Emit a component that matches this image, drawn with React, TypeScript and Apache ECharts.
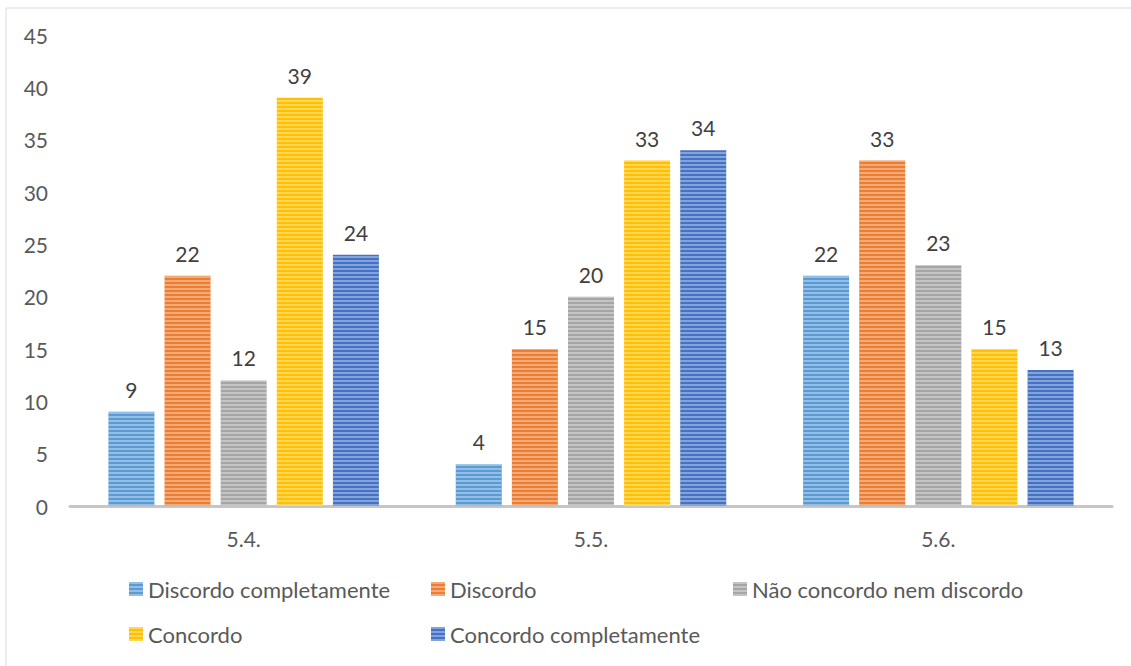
import React, { useEffect, useRef } from "react";
import * as echarts from "echarts";

const categories = ["5.4.", "5.5.", "5.6."];
const seriesNames = [
  "Discordo completamente",
  "Discordo",
  "Não concordo nem discordo",
  "Concordo",
  "Concordo completamente",
];
const discordoCompletamente = [9, 4, 22];
const discordo = [22, 15, 33];
const naoConcordoNemDiscordo = [12, 20, 23];
const concordo = [39, 33, 15];
const concordoCompletamente = [24, 34, 13];
const colors = ["#5B9BD5", "#ED7D31", "#A5A5A5", "#FFC000", "#4472C4"];
const yTicks = [0, 5, 10, 15, 20, 25, 30, 35, 40, 45];

const FONT = "Lato";

export default function App() {
  const ref = useRef<HTMLDivElement>(null);
  useEffect(() => {
    if (!ref.current) return;
    const chart = echarts.init(ref.current, undefined, { renderer: "svg" });
    const values = [
      discordoCompletamente,
      discordo,
      naoConcordoNemDiscordo,
      concordo,
      concordoCompletamente,
    ];
    const legendPos = [
      { left: 129, top: 578 },
      { left: 431, top: 578 },
      { left: 733, top: 578 },
      { left: 129, top: 623 },
      { left: 431, top: 623 },
    ];
    chart.setOption({
      animation: false,
      graphic: [
        {
          type: "rect",
          shape: { x: 6, y: 8, width: 1200, height: 700 },
          style: { fill: "none", stroke: "#d9d9d9", lineWidth: 1 },
          silent: true,
        },
      ],
      grid: { left: 70, right: 19, top: 35, bottom: 160 },
      legend: seriesNames.map((n, i) => ({
        data: [n],
        left: legendPos[i].left,
        top: legendPos[i].top,
        padding: 0,
        itemWidth: 14,
        itemHeight: 14,
        icon: "rect",
        textStyle: { fontFamily: FONT, fontSize: 22, color: "#595959" },
      })),
      xAxis: {
        type: "category",
        data: categories,
        axisLine: { lineStyle: { color: "#c6c6c6", width: 3 } },
        axisTick: { show: false },
        axisLabel: { fontFamily: FONT, fontSize: 21, color: "#595959", margin: 22 },
      },
      yAxis: {
        type: "value",
        min: yTicks[0],
        max: yTicks[yTicks.length - 1],
        interval: 5,
        splitLine: { show: false },
        axisLine: { show: false },
        axisTick: { show: false },
        axisLabel: { fontFamily: FONT, fontSize: 21, color: "#595959", margin: 22 },
      },
      series: seriesNames.map((n, i) => ({
        name: n,
        type: "bar",
        data: values[i],
        barWidth: 46,
        barGap: "22%",
        itemStyle: {
          color: colors[i],
          decal: {
            symbol: "rect",
            symbolSize: 1,
            dashArrayX: [10, 0],
            dashArrayY: [2, 2],
            color: "rgba(255,255,255,0.35)",
            rotation: 0,
          },
        },
        label: {
          show: true,
          position: "top",
          distance: 12,
          fontFamily: FONT,
          fontSize: 21,
          color: "#404040",
        },
      })),
    });
    return () => chart.dispose();
  }, []);
  return (
    <div style={{ position: "absolute", left: 0, top: 0, width: 1131, height: 666, background: "#fff" }}>
      <div ref={ref} style={{ width: 1131, height: 666 }} />
    </div>
  );
}
